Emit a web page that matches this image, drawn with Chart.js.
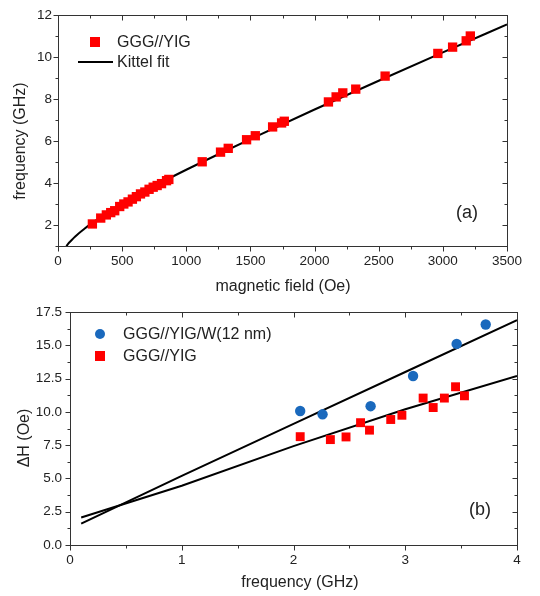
<!DOCTYPE html>
<html><head><meta charset="utf-8">
<script src="https://cdn.jsdelivr.net/npm/chart.js@4/dist/chart.umd.min.js"></script>
<style>
html,body{margin:0;padding:0;background:#fff;width:540px;height:596px;overflow:hidden}
.c{position:absolute;left:0;width:540px}
</style></head><body>
<div class="c" style="top:0;height:296px"><canvas id="ca" width="540" height="296"></canvas></div>
<div class="c" style="top:296px;height:300px"><canvas id="cb" width="540" height="300"></canvas></div>
<script>
// ---- Panel (a) data ----
const fieldYIG = [268,333,377,411,442,481,513,546,580,611,643,677,710,742,773,807,846,864,
                  1124,1267,1327,1470,1538,1673,1743,1764,2108,2168,2220,2321,2550,2961,3076,3182,3214];
const freqYIG  = [2.05,2.33,2.48,2.59,2.68,2.88,3.00,3.10,3.23,3.35,3.48,3.57,3.70,3.80,3.88,3.97,4.11,4.17,
                  5.01,5.47,5.65,6.06,6.25,6.67,6.86,6.94,7.86,8.10,8.29,8.47,9.09,10.17,10.47,10.77,11.00];
const kittelField = [65,80,100,125,150,200,250,300,400,500,600,800,1000,1250,1500,2000,2500,3000,3500];
const kittelFreq  = [0.99,1.11,1.24,1.40,1.54,1.79,2.03,2.24,2.64,3.01,3.35,4.01,4.63,5.37,6.09,7.50,8.87,10.22,11.55];
const xTicksA = [0,500,1000,1500,2000,2500,3000,3500];
const yTicksA = [2,4,6,8,10,12];

// ---- Panel (b) data ----
const freqW = [2.06,2.26,2.69,3.07,3.46,3.72];
const dHW   = [10.07,9.82,10.43,12.70,15.11,16.57];
const freqY = [2.06,2.33,2.47,2.60,2.68,2.87,2.97,3.16,3.25,3.35,3.45,3.53];
const dHY   = [8.14,7.92,8.12,9.19,8.63,9.43,9.75,11.04,10.33,11.04,11.89,11.21];
const fitFreqB = [0.1,1,2,3,4];
const fitW  = [1.60,5.20,9.10,13.00,16.90];
const fitY  = [2.07,4.45,7.43,10.20,12.70];
const xTicksB = [0,1,2,3,4];
const yTicksB = [0,2.5,5,7.5,10,12.5,15,17.5];

const RED = '#ff0000', BLUE = '#1a69bd', AX = '#333333', TXT = '#222222';
const FONT = '"Liberation Sans", Arial, sans-serif';

function pts(xs, ys){ return xs.map((v,i)=>({x:v, y:ys[i]})); }

function framePlugin(o){
  return {
    id:'frame',
    afterDraw(chart){
      const {ctx, chartArea:a, scales:{x,y}} = chart;
      ctx.save();
      ctx.strokeStyle = AX; ctx.lineWidth = 1;
      const L=Math.round(a.left)+0.5, R=Math.round(a.right)+0.5, T=Math.round(a.top)+0.5, B=Math.round(a.bottom)+0.5;
      ctx.strokeRect(L, T, R-L, B-T);
      const seg=(x1,y1,x2,y2)=>{ctx.beginPath();ctx.moveTo(x1,y1);ctx.lineTo(x2,y2);ctx.stroke();};
      const isMaj=(arr,v)=>arr.some(t=>Math.abs(t-v)<1e-6);
      for(let v=x.min; v<=x.max+1e-9; v+=o.minorX){
        const px=Math.round(x.getPixelForValue(v))+0.5;
        const len=isMaj(o.xt,v)?5:3;
        seg(px,B,px,B+len); seg(px,T,px,T+len);
      }
      for(let v=y.min; v<=y.max+1e-9; v+=o.minorY){
        const py=Math.round(y.getPixelForValue(v))+0.5;
        const len=isMaj(o.yt,v)?5:3;
        seg(L,py,L-len,py); seg(R,py,R-len,py);
      }
      // axis titles
      ctx.fillStyle = TXT;
      ctx.font = '16px '+FONT;
      ctx.textAlign='center'; ctx.textBaseline='middle';
      ctx.fillText(o.xTitle, o.xTitlePos[0], o.xTitlePos[1]);
      ctx.save();
      ctx.translate(o.yTitlePos[0], o.yTitlePos[1]); ctx.rotate(-Math.PI/2);
      ctx.fillText(o.yTitle, 0, 0);
      ctx.restore();
      // panel tag
      ctx.font = '18px '+FONT;
      ctx.fillText(o.tag, o.tagPos[0], o.tagPos[1]);
      // legend
      ctx.font = '16px '+FONT;
      ctx.textAlign='left';
      o.legend.forEach(it=>{
        const ds = chart.data.datasets[it.ds];
        const [cx,cy] = it.pos;
        if(it.kind==='rect'){
          ctx.fillStyle = ds.backgroundColor; ctx.fillRect(cx-5,cy-5,10,10);
        } else if(it.kind==='circle'){
          ctx.fillStyle = ds.backgroundColor; ctx.beginPath(); ctx.arc(cx,cy,5,0,Math.PI*2); ctx.fill();
        } else {
          ctx.strokeStyle = ds.borderColor; ctx.lineWidth=2; seg(cx-17,cy,cx+18,cy);
        }
        ctx.fillStyle = TXT;
        ctx.fillText(ds.label, it.textX, cy+1);
      });
      ctx.restore();
    }
  };
}

function scaleOpts(axis, min, max, ticksArr, fmt, pad, size){
  return {
    type:'linear', min, max,
    grid:{display:false, drawTicks:false},
    border:{display:false},
    afterBuildTicks:s=>{ s.ticks = ticksArr.map(v=>({value:v})); },
    afterFit:s=>{ if(axis==='x') s.height=size; else s.width=size; },
    ticks:{ color:TXT, font:{family:FONT, size:13.5}, padding:pad, callback:fmt, autoSkip:false, maxRotation:0 }
  };
}

const common = { responsive:false, animation:false, devicePixelRatio:1,
  plugins:{legend:{display:false}, tooltip:{enabled:false}} };

new Chart(document.getElementById('ca'), {
  type:'scatter',
  data:{ datasets:[
    { label:'GGG//YIG', data:pts(fieldYIG,freqYIG), pointStyle:'rect', pointRadius:6.6,
      backgroundColor:RED, borderColor:RED, borderWidth:0, order:1 },
    { label:'Kittel fit', data:pts(kittelField,kittelFreq), showLine:true, pointRadius:0,
      borderColor:'#000', backgroundColor:'#000', borderWidth:2, cubicInterpolationMode:'monotone', order:2 }
  ]},
  options:{ ...common,
    layout:{padding:{left:0, top:15, right:33, bottom:0}},
    scales:{
      x: scaleOpts('x',0,3500,xTicksA,v=>String(v),7,50),
      y: scaleOpts('y',1,12,yTicksA,v=>String(v),6,58)
    }
  },
  plugins:[framePlugin({minorX:250, minorY:1, xt:xTicksA, yt:yTicksA,
    xTitle:'magnetic field (Oe)', xTitlePos:[283,287], yTitle:'frequency (GHz)', yTitlePos:[21,141],
    tag:'(a)', tagPos:[467,213],
    legend:[{ds:0, kind:'rect', pos:[95,42], textX:117},{ds:1, kind:'line', pos:[95,62], textX:117}]})]
});

new Chart(document.getElementById('cb'), {
  type:'scatter',
  data:{ datasets:[
    { label:'GGG//YIG/W(12 nm)', data:pts(freqW,dHW), pointStyle:'circle', pointRadius:5.2,
      backgroundColor:BLUE, borderColor:BLUE, borderWidth:0, order:1 },
    { label:'GGG//YIG', data:pts(freqY,dHY), pointStyle:'rect', pointRadius:6.3,
      backgroundColor:RED, borderColor:RED, borderWidth:0, order:1 },
    { label:'fit W', data:pts(fitFreqB,fitW), showLine:true, pointRadius:0,
      borderColor:'#000', borderWidth:2, order:2 },
    { label:'fit YIG', data:pts(fitFreqB,fitY), showLine:true, pointRadius:0,
      borderColor:'#000', borderWidth:2, order:2 }
  ]},
  options:{ ...common,
    layout:{padding:{left:0, top:9.7, right:23, bottom:0}},
    scales:{
      x: scaleOpts('x',0,4,xTicksB,v=>String(v),7,51),
      y: scaleOpts('y',0,17.5,yTicksB,v=>Number(v).toFixed(1),8,70)
    }
  },
  plugins:[framePlugin({minorX:0.5, minorY:1.25, xt:xTicksB, yt:yTicksB,
    xTitle:'frequency (GHz)', xTitlePos:[300,287], yTitle:'\u0394H (Oe)', yTitlePos:[25,142],
    tag:'(b)', tagPos:[480,214],
    legend:[{ds:0, kind:'circle', pos:[100,38], textX:123},{ds:1, kind:'rect', pos:[100,60], textX:123}]})]
});
</script>
</body></html>
